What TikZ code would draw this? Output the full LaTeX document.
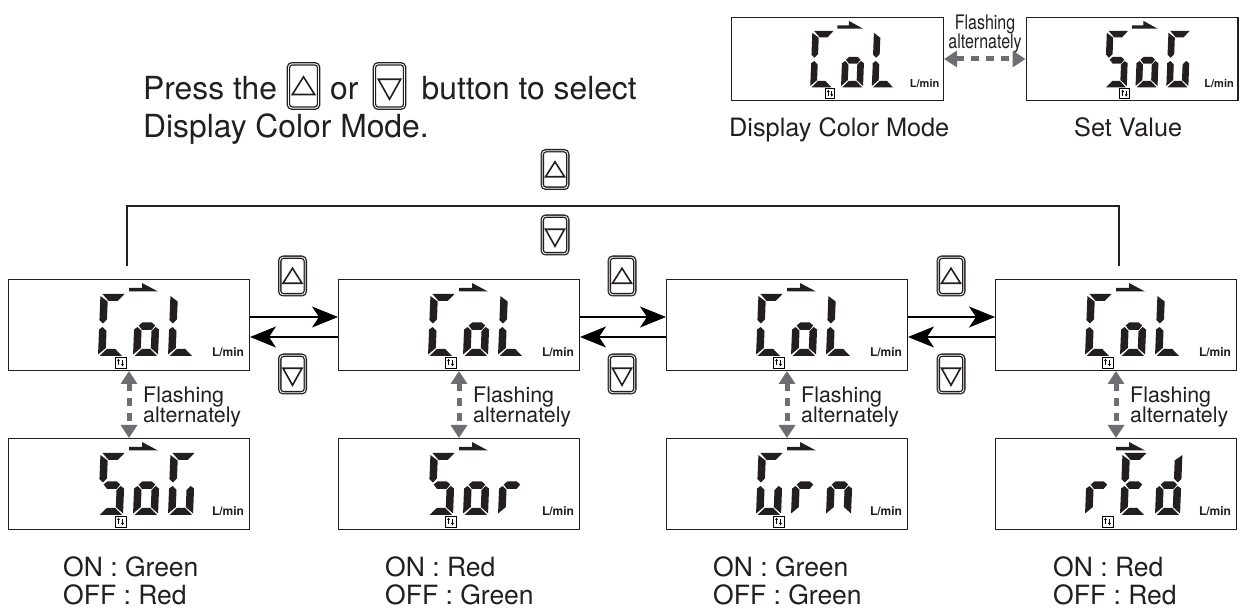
\documentclass[tikz,border=0pt]{standalone}
\usepackage{fontspec}
\setmainfont{TeX Gyre Heros}
\usetikzlibrary{positioning,arrows.meta}
\definecolor{lcdink}{HTML}{231F20}
\definecolor{flashgray}{HTML}{6D6E71}

% seven segments, origin at the foot of a digit
\newcommand\segA{\fill[seg] (2,62)--(24,62)--(17.5,55)--(8.5,55)--cycle;}
\newcommand\segB{\fill[seg] (25,60)--(25,36)--(21.5,32.5)--(17.5,36.5)--(17.5,54.5)--cycle;}
\newcommand\segC{\fill[seg] (25,26.5)--(25,1.5)--(17.5,8)--(17.5,25)--(21.5,29)--cycle;}
\newcommand\segD{\fill[seg] (1.5,0)--(24,0)--(17,7)--(8.5,7)--cycle;}
\newcommand\segE{\fill[seg] (0,26.5)--(3.5,29)--(7.5,25)--(7.5,8)--(0,1.5)--cycle;}
\newcommand\segF{\fill[seg] (0,60)--(7.5,54.5)--(7.5,36.5)--(3.5,32.5)--(0,36)--cycle;}
\newcommand\segG{\fill[seg] (4.5,30.5)--(8,33.5)--(17.5,33.5)--(21,30.5)--(17.5,26)--(8,26)--cycle;}
\newcommand\digC{\segA\segF\segE\segD}
\newcommand\digO{\segG\segC\segD\segE}
\newcommand\digL{\segF\segE\segD}
\newcommand\digS{\segA\segF\segG\segC\segD}
\newcommand\digG{\segA\segF\segE\segD\segC}
\newcommand\digR{\segE\segG}
\newcommand\digN{\segE\segG\segC}
\newcommand\digE{\segA\segF\segG\segE\segD}
\newcommand\digD{\segB\segG\segC\segD\segE}

% name, node options, inner scale, unit font, three digits
\newcommand\lcd[7]{
  \node[panel,#2] (#1) {};
  \begin{scope}[shift={(#1.south west)},#3]
    \begin{scope}[shift={(90,15)},xslant=.04] #5 \end{scope}
    \begin{scope}[shift={(125,15)},xslant=.04] #6 \end{scope}
    \begin{scope}[shift={(160,15)},xslant=.04] #7 \end{scope}
    \fill[seg] (121,79.5)--(150,79.5)--(134,88)--(134,83)--(121,83)--cycle;
    \draw[line width=.7pt,fill=white] (107,3)rectangle(118,14);
    \draw[line width=.7pt,-{Latex[length=2.5pt,width=3pt]}] (110.5,6)--(110.5,12.5);
    \draw[line width=.7pt,-{Latex[length=2.5pt,width=3pt]}] (114.5,11)--(114.5,4.5);
    \node[unit,font=#4] (#1-unit) at (220,19) {L/min};
  \end{scope}
}
\newcommand\triup{\draw[btntri] (-9.5,-26)--(0,-11)--(9.5,-26)--cycle;}
\newcommand\tridown{\draw[btntri] (-9.5,-13)--(0,-30)--(9.5,-13)--cycle;}
% name, node options, scale, triangle
\newcommand\btn[4]{
  \node[button,#2,minimum width=#3*25.5pt,minimum height=#3*37.5pt] (#1) {};
  \begin{scope}[shift={(#1.north)},scale=#3] #4 \end{scope}
}
\tikzset{
  panel/.style={draw=lcdink,line width=1.3pt,minimum width=240.7pt,minimum height=90.7pt,inner sep=0pt,outer sep=.65pt},
  smallpanel/.style={minimum width=211.7pt,minimum height=82.7pt},
  seg/.style={fill=lcdink},
  unit/.style={inner sep=0pt,text=lcdink},
  button/.style={draw=lcdink,double=white,double distance=.9pt,line width=1.3pt,rounded corners=3.5pt,inner sep=0pt,outer sep=0pt},
  btntri/.style={draw=lcdink,line width=1.6pt,fill=white,line join=miter},
  flash/.style={flashgray,line width=5pt,dash pattern=on 8pt off 7pt,{Triangle[length=13pt,width=16pt]}-{Triangle[length=13pt,width=16pt]}},
  flashtext/.style={font=\fontsize{21.4}{20.5}\selectfont,text=lcdink,align=left,inner sep=0pt,anchor=west},
  link/.style={draw=black,line width=2pt,-{Stealth[length=26pt,width=21pt,inset=7pt]}},
  toprun/.style={draw=lcdink,line width=2pt},
  press/.style={font=\fontsize{31.8}{38}\selectfont,text=lcdink,inner sep=0pt,anchor=base west},
  caption/.style={font=\fontsize{25.3}{25.3}\selectfont,text=lcdink,inner sep=0pt,anchor=base west},
  state/.style={font=\fontsize{26.5}{30}\selectfont,text=lcdink,inner sep=0pt,anchor=base west,align=left},
}
\newcommand\bigunit{\fontsize{12}{12}\bfseries\selectfont}
\newcommand\smallunit{\fontsize{11}{11}\bfseries\selectfont}

\begin{document}
\begin{tikzpicture}[x=1pt,y=1pt,>=Stealth,node distance=88pt]
  \useasboundingbox (0,0) rectangle (1240,608);
  \fill[white] (0,0) rectangle (1240,608);

  % upper row
  \lcd{col1}{at={(129,283)}}{}{\bigunit}{\digC}{\digO}{\digL}
  \lcd{col2}{right=88pt of col1}{}{\bigunit}{\digC}{\digO}{\digL}
  \lcd{col3}{right=86pt of col2}{}{\bigunit}{\digC}{\digO}{\digL}
  \lcd{col4}{right=87pt of col3}{}{\bigunit}{\digC}{\digO}{\digL}
  % lower row
  \lcd{sog}{below=67pt of col1}{}{\bigunit}{\digS}{\digO}{\digG}
  \lcd{sor}{below=67pt of col2}{}{\bigunit}{\digS}{\digO}{\digR}
  \lcd{grn}{below=67pt of col3}{}{\bigunit}{\digG}{\digR}{\digN}
  \lcd{red}{below=67pt of col4}{}{\bigunit}{\digR}{\digE}{\digD}
  % key at the top
  \lcd{keycol}{smallpanel,at={(837.5,549)}}{xscale=.88,yscale=.91}{\smallunit}{\digC}{\digO}{\digL}
  \lcd{keyset}{smallpanel,at={(1132,549)}}{xscale=.88,yscale=.91}{\smallunit}{\digS}{\digO}{\digG}
  \draw[flash] (keycol.east) -- (keyset.west);
  \node[font=\fontsize{20}{20}\selectfont,text=lcdink,align=center,inner sep=0pt] (keyflash) at (985,574)
    {\scalebox{.8}[1]{Flashing}\\[-1pt]\scalebox{.8}[1]{alternately}};
  \node[caption] (keycolname) at (729,471) {Display Color Mode};
  \node[caption] (keysetname) at (1074,471) {Set Value};

  % heading
  \node[press] (press) at (143,508) {Press the};
  \btn{headup}{at={(303.5,522)}}{1.18}{\triup}
  \node[press] (pressor) at (330,508) {or};
  \btn{headdown}{at={(389.5,522)}}{1.18}{\tridown}
  \node[press] (pressend) at (421.5,508) {button to select};
  \node[press] (pressmode) at (143,470) {Display Color Mode.};

  % link round all four
  \coordinate (runa) at ([xshift=-2pt,yshift=13pt]col1.north);
  \coordinate (runb) at ([xshift=3pt,yshift=13pt]col4.north);
  \draw[toprun] (runa) -- ++(0,60) -| (runb);
  \btn{runup}{at={(555,438.5)}}{1}{\triup}
  \btn{rundown}{at={(555,373)}}{1}{\tridown}

  % links between panels
  \foreach \a/\b in {col1/col2,col2/col3,col3/col4}{
    \draw[link] ([yshift=8pt]\a.east) -- ([yshift=8pt]\b.west);
    \draw[link] ([yshift=-12pt]\b.west) -- ([yshift=-12pt]\a.east);
  }
  \btn{upa}{at={(292.5,332)}}{1}{\triup}
  \btn{downa}{at={(292.5,234)}}{1}{\tridown}
  \btn{upb}{at={(622,332)}}{1}{\triup}
  \btn{downb}{at={(622,234)}}{1}{\tridown}
  \btn{upc}{at={(951,332)}}{1}{\triup}
  \btn{downc}{at={(951,234)}}{1}{\tridown}

  % flashing pairs
  \foreach \a/\b in {col1/sog,col2/sor,col3/grn,col4/red}{
    \draw[flash] (\a.south) -- (\b.north);
    \node[flashtext] (\a-note) at ([xshift=14pt,yshift=-36pt]\a.south) {Flashing\\alternately};
  }

  % what the lamp does
  \node[state] (ona) at (63,31) {ON : Green};
  \node[state] (offa) at (63,3.5) {OFF : Red};
  \node[state] (onb) at (385,31) {ON : Red};
  \node[state] (offb) at (385,3.5) {OFF : Green};
  \node[state] (onc) at (713,31) {ON : Green};
  \node[state] (offc) at (713,3.5) {OFF : Green};
  \node[state] (ond) at (1053,31) {ON : Red};
  \node[state] (offd) at (1053,3.5) {OFF : Red};
\end{tikzpicture}
\end{document}
